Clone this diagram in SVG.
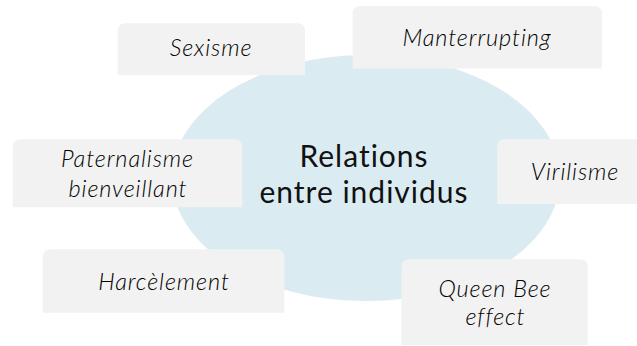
<svg xmlns="http://www.w3.org/2000/svg" width="637" height="346" viewBox="0 0 637 346">
  <style>
    .box { fill: #f2f2f2; }
    .lbl { font-family: Lato, "Open Sans", sans-serif; font-style: italic; font-weight: 300; font-size: 23.5px; letter-spacing: 0.9px; fill: #000000; text-anchor: middle; }
    .center { font-family: Lato, "Open Sans", sans-serif; font-size: 30px; letter-spacing: 1px; fill: #111111; text-anchor: middle; }
  </style>
  <rect width="637" height="346" fill="#ffffff"/>
  <g id="center">
    <ellipse cx="366" cy="178" rx="194" ry="123" fill="#daecf2"/>
    <text class="center"><tspan x="364" y="166.7">Relations</tspan><tspan x="364" y="202.7">entre individus</tspan></text>
  </g>
  <g id="connectors"/>
  <g id="sexisme">
    <path class="box" d="M117.7,75 V31.3 Q117.7,23.3 125.7,23.3 H297 Q305,23.3 305,31.3 V75 Z"/>
    <text class="lbl" x="211" y="55.7">Sexisme</text>
  </g>
  <g id="manterrupting">
    <path class="box" d="M352.7,68.5 V14 Q352.7,6 360.7,6 H594 Q602,6 602,14 V68.5 Z"/>
    <text class="lbl" x="477" y="45.7">Manterrupting</text>
  </g>
  <g id="paternalisme">
    <path class="box" d="M12.7,207.3 V147.3 Q12.7,139.3 20.7,139.3 H234.3 Q242.3,139.3 242.3,147.3 V207.3 Z"/>
    <text class="lbl"><tspan x="127.5" y="166.7">Paternalisme</tspan><tspan x="128" y="196.7">bienveillant</tspan></text>
  </g>
  <g id="virilisme">
    <path class="box" d="M497.3,204 V147.3 Q497.3,139.3 505.3,139.3 H637 V204 Z"/>
    <text class="lbl" x="575" y="180">Virilisme</text>
  </g>
  <g id="harcelement">
    <path class="box" d="M42.7,312.7 V257.3 Q42.7,249.3 50.7,249.3 H276.3 Q284.3,249.3 284.3,257.3 V312.7 Z"/>
    <text class="lbl" x="164" y="290">Harcèlement</text>
  </g>
  <g id="queenbee">
    <path class="box" d="M401.5,345 V267.3 Q401.5,259.3 409.5,259.3 H579.7 Q587.7,259.3 587.7,267.3 V345 Z"/>
    <text class="lbl"><tspan x="495" y="296.7">Queen Bee</tspan><tspan x="495.5" y="325">effect</tspan></text>
  </g>
</svg>
